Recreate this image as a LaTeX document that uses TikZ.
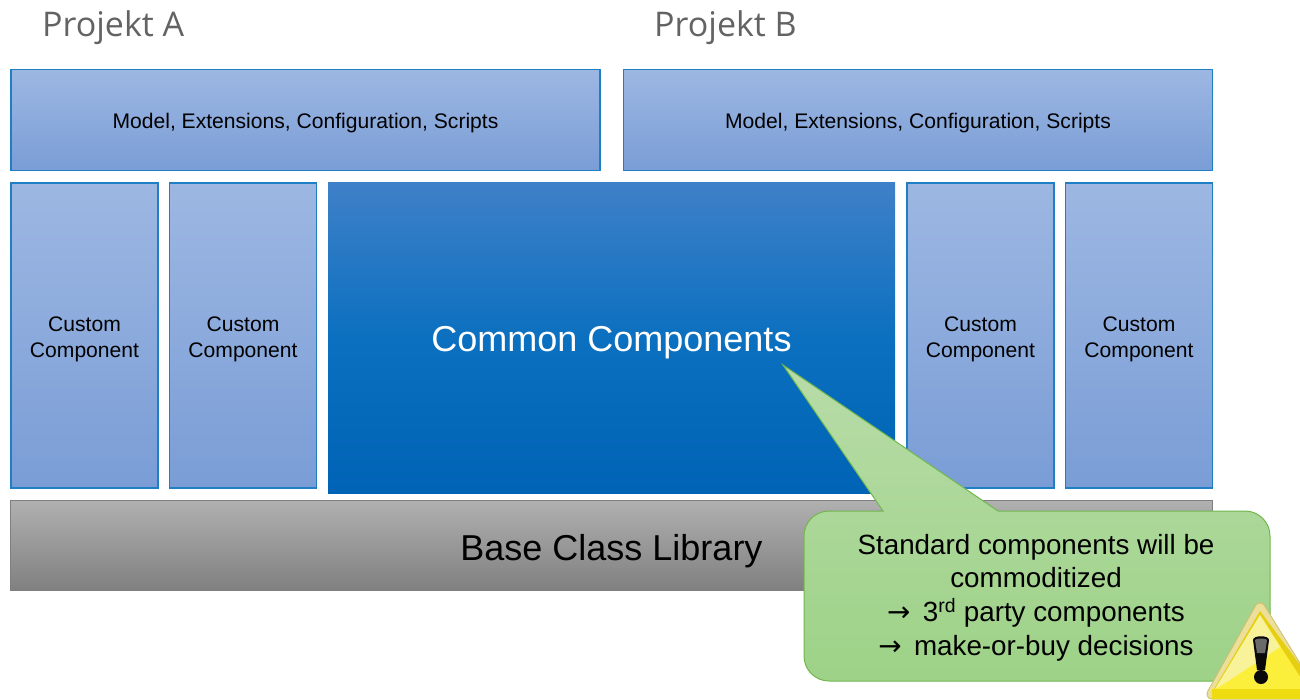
\documentclass[tikz,border=0pt]{standalone}
\usepackage{fontspec}
\setmainfont{Liberation Sans}
\newfontfamily\titlefont{Open Sans}
\newfontfamily\arrowfont{DejaVu Sans}
\usepackage{tikz}
\usetikzlibrary{positioning}

\definecolor{boxline}{HTML}{1F7FC4}
\definecolor{boxtop}{HTML}{9DB7E2}
\definecolor{boxbottom}{HTML}{7A9DD6}
\definecolor{titlegray}{HTML}{636363}
\definecolor{commontop}{HTML}{3F80C8}
\definecolor{commonmiddle}{HTML}{0B70C0}
\definecolor{commonbottom}{HTML}{0063B5}
\definecolor{baseline}{HTML}{7F7F7F}
\definecolor{basetop}{HTML}{B0B0B0}
\definecolor{basebottom}{HTML}{808080}
\definecolor{notetop}{HTML}{B8DCA8}
\definecolor{notebottom}{HTML}{9DD287}
\definecolor{noteline}{HTML}{70B84E}
\definecolor{warnrim}{HTML}{EBDF9A}
\definecolor{warnedge}{HTML}{CFC070}
\definecolor{warnyellow}{HTML}{E6CE10}
\definecolor{warnlight}{HTML}{FBEF3C}
\definecolor{warnpale}{HTML}{F8F29A}
\definecolor{warnbottom}{HTML}{EFDC10}
\definecolor{warnblack}{HTML}{0A0A0A}
\definecolor{warngrey}{HTML}{6A6A6A}

\tikzset{
  bluebox/.style={draw=boxline, line width=1.1pt, top color=boxtop, bottom color=boxbottom, inner sep=0pt, align=center, font=\fontsize{21.1}{25.5}\selectfont},
  titlelabel/.style={anchor=base west, inner sep=0pt, text=titlegray, font=\titlefont\fontsize{34}{40}\selectfont}
}

\newcommand{\notearrow}{{\arrowfont →}\,}

\begin{document}
\begin{tikzpicture}[x=1pt,y=-1pt]
\useasboundingbox (0,0) rectangle (1300,699);

\node [titlelabel] (titlea) at (42,36) {Projekt A};
\node [titlelabel] (titleb) at (654,36) {Projekt B};

\node [bluebox, minimum width=589pt, minimum height=101pt, text height=17pt, text depth=0pt] (modela) at (305.5,120) {Model, Extensions, Configuration, Scripts};
\node [bluebox, minimum width=589pt, minimum height=101pt, text height=17pt, text depth=0pt] (modelb) at (918,120) {Model, Extensions, Configuration, Scripts};

\foreach \x/\n in {84.5/a,243/b,980.5/c,1139/d} % custom boxes
\node [bluebox, minimum width=147pt, minimum height=305pt, label={[align=center, font=\fontsize{21.1}{25.5}\selectfont, inner sep=0pt, yshift=-4pt]center:Custom\\Component}] (custom\n) at (\x,335.5) {};

\node [minimum width=567pt, minimum height=311pt, inner sep=0pt, top color=commontop, bottom color=commonbottom, middle color=commonmiddle, text=white, text height=27pt, text depth=0pt, font=\fontsize{36}{42}\selectfont] (common) at (611.5,337.5) {Common Components};

\node [draw=baseline, line width=1.1pt, top color=basetop, bottom color=basebottom, minimum width=1202pt, minimum height=90pt, inner sep=0pt, text height=29pt, text depth=0pt, font=\fontsize{36}{42}\selectfont] (base) at (611.5,545.5) {Base Class Library};

% note with its pointer
\draw[draw=noteline, line width=1pt, top color=notetop, bottom color=notebottom, rounded corners=0pt]
  (783,365) -- (998,511) [rounded corners=25pt] -- (1270,511) -- (1270,681) -- (804,681) -- (804,511) [rounded corners=0pt] -- (883,511) -- cycle;
\node [inner sep=0pt, align=center, font=\fontsize{27.8}{33.7}\selectfont] (note) at (1036,597.5) {Standard components will be\\commoditized\\\notearrow{} 3\textsuperscript{rd} party components\\\notearrow{} make-or-buy decisions};

% warning sign
\begin{scope}
\clip (1190,590) rectangle (1300,699);
\draw[line join=round, line width=11pt, draw=warnedge, fill=warnedge] (1260,608) -- (1313,694) -- (1212,694) -- cycle;
\draw[line join=round, line width=9pt, draw=warnrim, fill=warnrim] (1260,608) -- (1313,694) -- (1212,694) -- cycle;
\fill[warnyellow] (1260,611) -- (1318,689) -- (1214,689) -- cycle;
\fill[warnlight] (1260,615) -- (1308,689) -- (1215,689) -- cycle;
\fill[warnpale] (1260,615) -- (1280,647) -- (1222,685) -- (1215,689) -- cycle;
\fill[warnbottom] (1212,689) rectangle (1312,699);
\fill[warnblack] (1253,640) .. controls (1253,635) and (1269,635) .. (1269,640) -- (1265,670) -- (1257,670) -- cycle;
\fill[warngrey] (1255,640) .. controls (1255,638) and (1267,638) .. (1267,640) -- (1265,653) -- (1257,653) -- cycle;
\fill[warnblack] (1261,677) circle (7pt);
\end{scope}

\end{tikzpicture}
\end{document}
